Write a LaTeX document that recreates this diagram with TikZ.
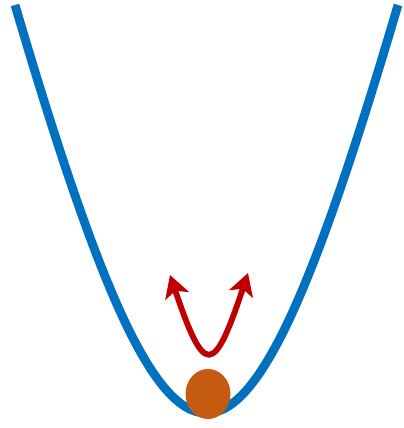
\documentclass[tikz,border=0pt]{standalone}
\usepackage{xcolor}
\usepackage{tikz}
\usetikzlibrary{arrows.meta}

\definecolor{wellblue}{HTML}{0070C0}
\definecolor{ballorange}{HTML}{C55A11}
\definecolor{kickred}{HTML}{C00000}

\begin{document}
\begin{tikzpicture}[x=0.02cm, y=-0.02cm, >={Stealth[length=12.5pt, width=14pt, inset=3pt]}]

\useasboundingbox (0,0) rectangle (404,428);

%-- potential well
\coordinate (Wl) at ( 15,   5);
\coordinate (Wr) at (398,   5);
\draw[wellblue, line width=5pt]
  (Wl) .. controls (175.5,549.3) and (237.5,549.3) .. (Wr);

%-- ball at the bottom
\coordinate (B) at (208, 394);
\fill[ballorange] (B) ellipse (22.5 and 25);

%-- oscillation arrow
\coordinate (Kl) at (170, 275);
\coordinate (Kr) at (248, 273);
\draw[<->, kickred, line width=3.3pt]
  (Kl) .. controls (204.4,376.7) and (213.6,376.7) .. (Kr);

\end{tikzpicture}
\end{document}
